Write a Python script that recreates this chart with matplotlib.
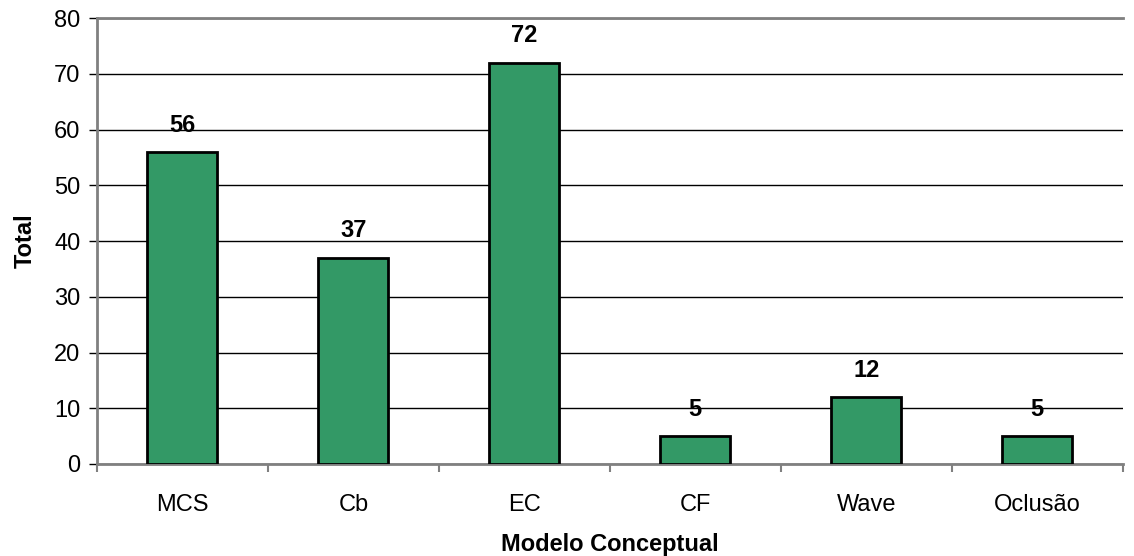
import matplotlib
matplotlib.use("Agg")
import matplotlib.pyplot as plt
from matplotlib.ticker import FixedLocator, NullFormatter
import numpy as np

categories = ["MCS", "Cb", "EC", "CF", "Wave", "Oclusão"]
totals = [56, 37, 72, 5, 12, 5]
y_ticks = [0, 10, 20, 30, 40, 50, 60, 70, 80]

plt.rcParams["font.family"] = ["Liberation Sans", "DejaVu Sans"]
FS = 17

fig = plt.figure(figsize=(11.34, 5.56), dpi=100)
ax = fig.add_axes([0.0855, 0.1655, 0.9045, 0.802])

x = np.arange(len(categories))
ax.bar(x, totals, width=0.41, color="#339966", edgecolor="black",
       linewidth=2, zorder=3)

for xi, v in zip(x, totals):
    ax.annotate(str(v), (xi, v), xytext=(0, 11), textcoords="offset points",
                ha="center", va="bottom", fontsize=FS, fontweight="bold",
                zorder=4)

ax.set_xlim(-0.5, len(categories) - 0.5)
ax.set_ylim(0, 80)
ax.set_yticks(y_ticks)
ax.yaxis.grid(True, color="black", linewidth=1.0, zorder=0)
ax.set_axisbelow(True)

ax.set_xticks(x)
ax.set_xticklabels(categories, fontsize=FS)
ax.xaxis.set_minor_locator(FixedLocator(np.arange(-0.5, len(categories), 1.0)))
ax.xaxis.set_minor_formatter(NullFormatter())
ax.tick_params(axis="x", which="major", length=0, pad=21.5)
ax.tick_params(axis="x", which="minor", length=6, width=1.5, color="#808080")
ax.tick_params(axis="y", length=6, width=1, color="black", labelsize=FS, pad=6)

for side in ["left", "bottom", "top"]:
    ax.spines[side].set_color("#808080")
    ax.spines[side].set_linewidth(2)
ax.spines["right"].set_visible(False)

ax.set_xlabel("Modelo Conceptual", fontsize=FS, fontweight="bold", labelpad=12)
ax.set_ylabel("Total", fontsize=FS, fontweight="bold", labelpad=12)

fig.savefig("out.png", dpi=100, facecolor="white")
